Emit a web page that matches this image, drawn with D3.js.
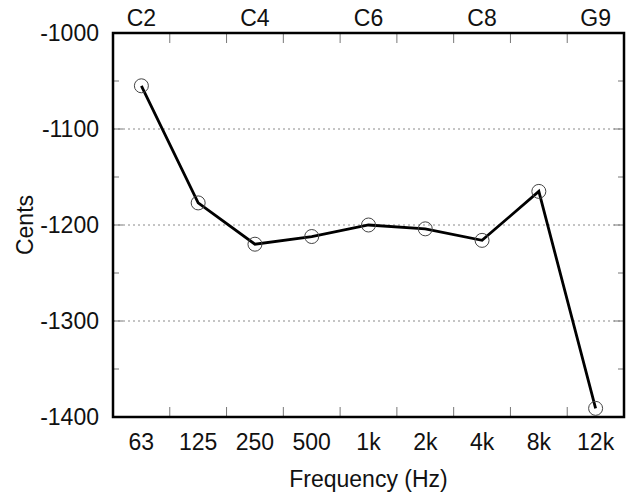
<!DOCTYPE html>
<html>
<head>
<meta charset="utf-8">
<script src="https://cdn.jsdelivr.net/npm/d3@7"></script>
<style>
  body { margin: 0; background: #fff; }
  text { font-family: "Liberation Sans", Arial, sans-serif; fill: #111; }
</style>
</head>
<body>
<div id="chart"></div>
<script>
// data
const freqLabels = ["63", "125", "250", "500", "1k", "2k", "4k", "8k", "12k"];
const noteLabels = ["C2", "", "C4", "", "C6", "", "C8", "", "G9"];
const cents = [-1055, -1177, -1220, -1212, -1200, -1204, -1216, -1165, -1391];
const yTicks = [-1000, -1100, -1200, -1300, -1400];
const yMinor = [-1050, -1150, -1250, -1350];

const width = 627, height = 492;
const margin = { top: 33, right: 3, bottom: 75, left: 113 };

const svg = d3.select("#chart")
  .append("svg")
  .attr("width", width)
  .attr("height", height);

// x is a band per frequency, y is linear cents
const xScale = d3.scaleBand()
  .domain(freqLabels)
  .range([margin.left, width - margin.right]);
const yScale = d3.scaleLinear()
  .domain([-1400, -1000])
  .range([height - margin.bottom, margin.top]);

const cx = (i) => xScale(freqLabels[i]) + xScale.bandwidth() / 2;
const x0 = margin.left, x1 = width - margin.right;
const y0 = yScale(-1400), y1 = yScale(-1000);

// dotted grid lines
svg.append("g")
  .selectAll("line")
  .data(yTicks.filter(d => d != -1000 && d != -1400))
  .enter()
  .append("line")
    .attr("x1", x0).attr("x2", x1)
    .attr("y1", d => yScale(d)).attr("y2", d => yScale(d))
    .attr("stroke", "#8a8a8a")
    .attr("stroke-width", 1)
    .attr("stroke-dasharray", "2,3");

// ticks between categories, top and bottom
const bounds = freqLabels.slice(1).map(d => xScale(d));
const tickG = svg.append("g").attr("stroke", "#777").attr("stroke-width", 1);
bounds.forEach(x => {
  tickG.append("line").attr("x1", x).attr("x2", x).attr("y1", y0).attr("y2", y0 - 10);
  tickG.append("line").attr("x1", x).attr("x2", x).attr("y1", y1).attr("y2", y1 + 10);
});
// y ticks, left and right
yTicks.concat(yMinor).forEach(v => {
  const len = yMinor.includes(v) ? 6 : 10;
  tickG.append("line").attr("x1", x0).attr("x2", x0 + len).attr("y1", yScale(v)).attr("y2", yScale(v));
  tickG.append("line").attr("x1", x1).attr("x2", x1 - len).attr("y1", yScale(v)).attr("y2", yScale(v));
});

// frame
svg.append("rect")
  .attr("x", x0).attr("y", y1)
  .attr("width", x1 - x0).attr("height", y0 - y1)
  .attr("fill", "none")
  .attr("stroke", "#000")
  .attr("stroke-width", 2.5);

// y labels
svg.append("g")
  .selectAll("text")
  .data(yTicks)
  .enter()
  .append("text")
    .attr("x", x0 - 14)
    .attr("y", d => yScale(d))
    .attr("dy", "0.36em")
    .attr("text-anchor", "end")
    .attr("font-size", "23px")
    .text(d => d);

// bottom labels
svg.append("g")
  .selectAll("text")
  .data(freqLabels)
  .enter()
  .append("text")
    .attr("x", (d, i) => cx(i))
    .attr("y", 450)
    .attr("text-anchor", "middle")
    .attr("font-size", "23px")
    .text(d => d);

// top note labels
svg.append("g")
  .selectAll("text")
  .data(noteLabels)
  .enter()
  .append("text")
    .attr("x", (d, i) => cx(i))
    .attr("y", 26)
    .attr("text-anchor", "middle")
    .attr("font-size", "23px")
    .text(d => d);

// axis titles
svg.append("text")
  .attr("x", (x0 + x1) / 2)
  .attr("y", 487)
  .attr("text-anchor", "middle")
  .attr("font-size", "23px")
  .text("Frequency (Hz)");

svg.append("text")
  .attr("transform", `translate(33, ${(y0 + y1) / 2}) rotate(-90)`)
  .attr("text-anchor", "middle")
  .attr("font-size", "23px")
  .text("Cents");

// the line
const line = d3.line()
  .x((d, i) => cx(i))
  .y(d => yScale(d));

svg.append("path")
  .datum(cents)
  .attr("d", line)
  .attr("fill", "none")
  .attr("stroke", "#000")
  .attr("stroke-width", 2.8)
  .attr("stroke-linejoin", "miter");

// open circle markers
svg.append("g")
  .selectAll("circle")
  .data(cents)
  .enter()
  .append("circle")
    .attr("cx", (d, i) => cx(i))
    .attr("cy", d => yScale(d))
    .attr("r", 7)
    .attr("fill", "none")
    .attr("stroke", "#444")
    .attr("stroke-width", 1);
</script>
</body>
</html>
